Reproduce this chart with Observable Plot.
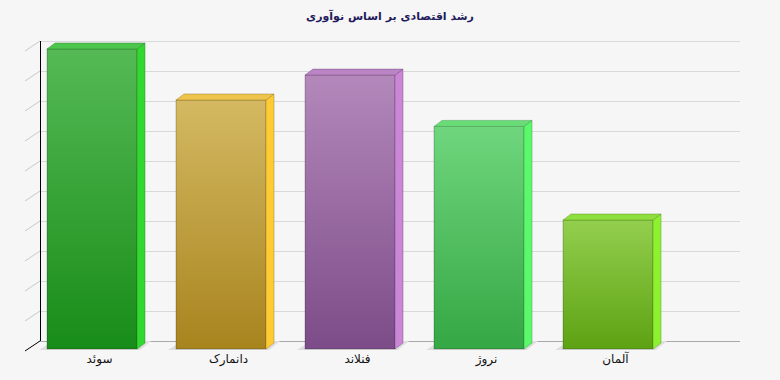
<!DOCTYPE html>
<html><head><meta charset="utf-8">
<script src="https://cdn.jsdelivr.net/npm/d3@7"></script>
<script src="https://cdn.jsdelivr.net/npm/@observablehq/plot@0.6"></script>
<style>
html,body{margin:0;padding:0;background:#f6f6f6;}
#title{height:32px;font:bold 11px "DejaVu Sans",sans-serif;line-height:33px;text-align:center;color:#1f1b5c;direction:rtl;}
#chart svg{display:block;}
</style></head><body>
<div id="title"></div>
<div id="chart"></div>
<script>
const title = "رشد اقتصادی بر اساس نوآوری";
const categories = ["سوئد", "دانمارک", "فنلاند", "نروژ", "آلمان"];
const values = [10, 8.3, 9.13, 7.42, 4.3];
const gridTicks = [0, 1, 2, 3, 4, 5, 6, 7, 8, 9, 10];

// palette
const faceTop = ["#55ba55", "#d4b962", "#b488bb", "#6fd67d", "#93cf4e"];
const faceBottom = ["#188c18", "#a8841e", "#7c4c88", "#35a744", "#5da213"];
const sideColor = ["#30d830", "#ffcb35", "#c987d6", "#5cf86c", "#8cf22e"];
const capColor = ["#4cc64c", "#eec44c", "#bb84c4", "#68dc76", "#8fdf40"];
const edgeColor = ["#237a23", "#8f7020", "#6a3f75", "#2f8f3c", "#4f8a14"];

document.getElementById("title").textContent = title;

const data = categories.map((c, i) => ({category: c, value: values[i]}));

const plot = Plot.plot({
  width: 780,
  height: 348,
  marginLeft: 40,
  marginRight: 40,
  marginTop: 17,
  marginBottom: 31,
  style: {fontFamily: "DejaVu Sans, sans-serif", fontSize: "12px", background: "transparent", color: "#111"},
  x: {type: "band", domain: categories, range: [47, 653], paddingInner: 39 / 129, paddingOuter: 0, axis: null, label: null},
  y: {domain: [0, 10], axis: null},
  color: {type: "ordinal", domain: categories, range: categories.map((_, i) => `url(#g${i})`)},
  marks: [
    Plot.ruleY(gridTicks.filter(t => t > 0), {stroke: "#d9d9d9", dy: -8}),
    Plot.ruleY([0], {stroke: "#a8a8a8", dy: -8}),
    Plot.barY(data, {x: "category", y: "value", fill: "category", stroke: "rgba(0,0,0,0.22)", strokeWidth: 1}),
    Plot.axisX({tickSize: 0, tickPadding: 5, dx: 7, fontSize: 12, label: null})
  ]
});

document.getElementById("chart").appendChild(plot);

const svg = d3.select(plot);
const xs = plot.scale("x"), ys = plot.scale("y");
const bw = xs.bandwidth;
const DX = 8, DY = -6;
const y0 = ys.apply(0);

const defs = svg.insert("defs", ":first-child");
categories.forEach((c, i) => {
  const g = defs.append("linearGradient").attr("id", "g" + i)
    .attr("x1", 0).attr("y1", 0).attr("x2", 0).attr("y2", 1);
  g.append("stop").attr("offset", "0%").attr("stop-color", faceTop[i]);
  g.append("stop").attr("offset", "100%").attr("stop-color", faceBottom[i]);
});

// floor shadows behind bars
const shadow = svg.insert("g", "g[aria-label='bar']");
data.forEach((d, i) => {
  const xl = xs.apply(d.category), xr = xl + bw;
  shadow.append("polygon")
    .attr("points", [[xl - 8, y0 + 1], [xr + 3, y0 + 1], [xr + 14, y0 - 8], [xl + 6, y0 - 8]].map(p => p.join(",")).join(" "))
    .attr("fill", "#dedede");
});

// 3D side and top faces
const faces = svg.append("g");
data.forEach((d, i) => {
  const xl = xs.apply(d.category), xr = xl + bw, yt = ys.apply(d.value);
  faces.append("polygon")
    .attr("points", [[xr, yt], [xr + DX, yt + DY], [xr + DX, y0 + DY], [xr, y0]].map(p => p.join(",")).join(" "))
    .attr("fill", sideColor[i]).attr("stroke", edgeColor[i]).attr("stroke-opacity", 0.5).attr("stroke-width", 0.8);
  faces.append("polygon")
    .attr("points", [[xl, yt], [xl + DX, yt + DY], [xr + DX, yt + DY], [xr, yt]].map(p => p.join(",")).join(" "))
    .attr("fill", capColor[i]).attr("stroke", edgeColor[i]).attr("stroke-opacity", 0.5).attr("stroke-width", 0.8);
});

// left wall line and diagonal floor ticks
const wall = svg.append("g");
gridTicks.forEach(t => {
  const yb = ys.apply(t) - 8;
  wall.append("line")
    .attr("x1", 25).attr("y1", yb + 10).attr("x2", 40).attr("y2", yb)
    .attr("stroke", t === 0 ? "#000" : "#c8c8c8").attr("stroke-width", 1);
});
wall.append("line")
  .attr("x1", 40.5).attr("x2", 40.5)
  .attr("y1", ys.apply(10) - 8).attr("y2", ys.apply(0) - 8)
  .attr("stroke", "#000").attr("stroke-width", 1);
</script>
</body></html>
